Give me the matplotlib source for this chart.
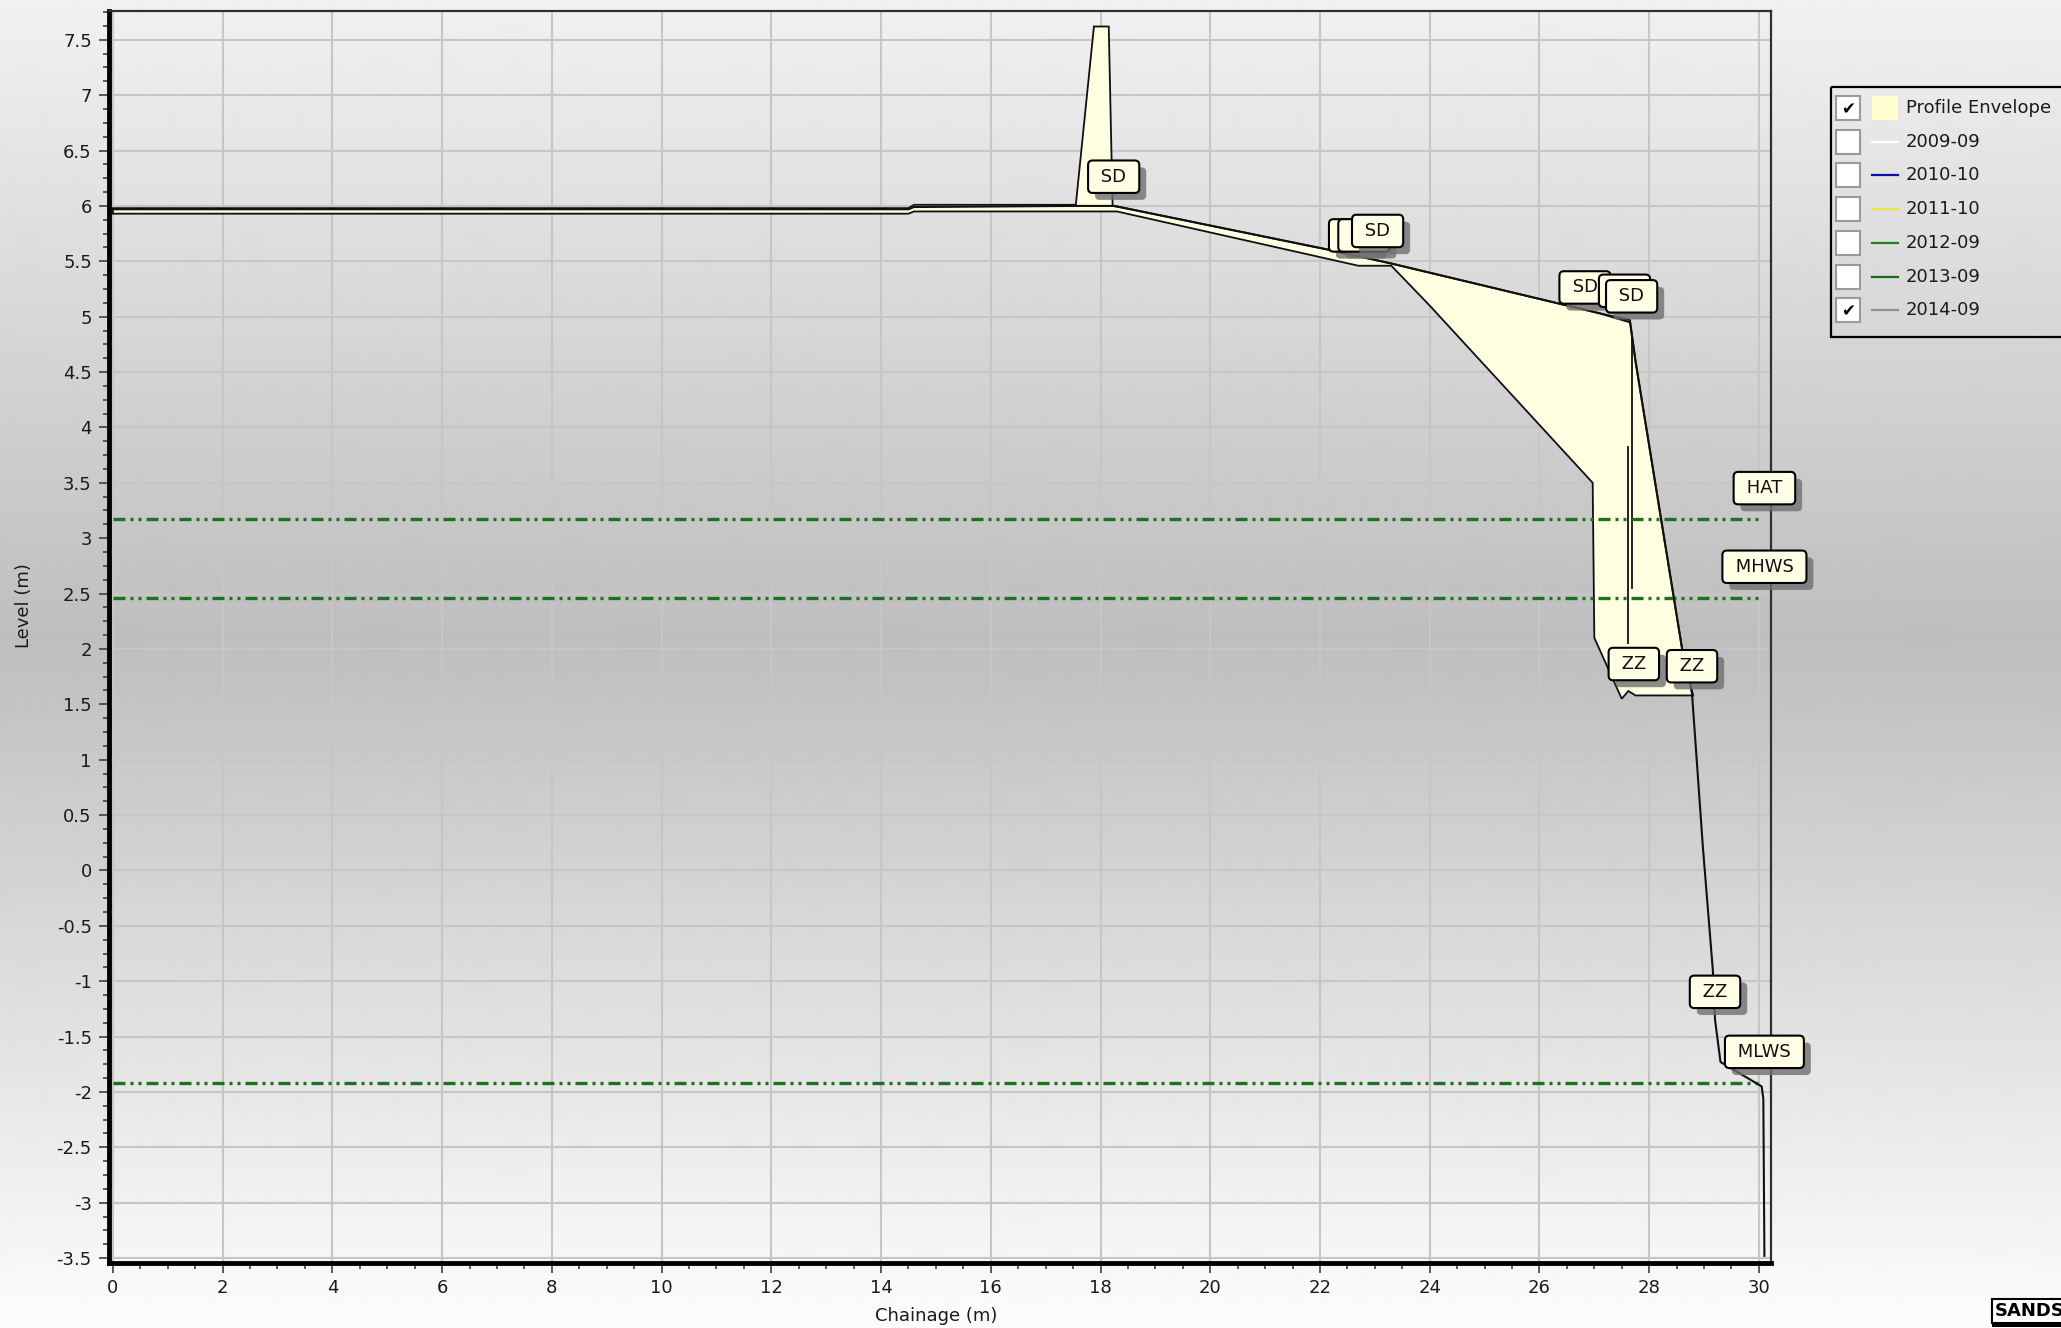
import matplotlib
matplotlib.use("Agg")
import matplotlib.pyplot as plt
import matplotlib.patheffects as pe
from matplotlib.patches import Rectangle, Polygon
from matplotlib.ticker import MultipleLocator, FuncFormatter
import numpy as np

plt.rcParams['font.family'] = ['DejaVu Sans']
plt.rcParams['axes.unicode_minus'] = False

# 2014-09 survey profile (chainage m, level m)
chainage_2014 = [0.0, 14.5, 14.6, 17.55, 18.25, 22.2, 23.3, 27.1, 27.65, 27.75,
                 28.6, 28.78, 28.98, 29.16, 29.2, 29.3, 30.05, 30.08, 30.1]
level_2014 = [5.97, 5.97, 5.99, 6.0, 6.0, 5.6, 5.48, 5.03, 4.95, 4.6,
              2.0, 1.6, 0.2, -0.9, -1.35, -1.73, -1.95, -2.06, -3.48]

# profile envelope outline (max side then back along min side)
env_chainage = [0.0, 14.5, 14.6, 17.55, 17.88, 18.15, 18.22, 18.35, 22.2, 23.3,
                27.1, 27.65, 27.75, 28.6, 28.8,
                27.75, 27.62, 27.5, 27.0, 26.97, 24.0, 23.3, 22.7, 18.3, 14.6, 14.5, 0.0]
env_level = [5.98, 5.98, 6.01, 6.01, 7.62, 7.62, 6.0, 5.99, 5.6, 5.48,
             5.03, 4.97, 4.6, 2.0, 1.58,
             1.58, 1.62, 1.55, 2.1, 3.5, 5.1, 5.46, 5.46, 5.95, 5.95, 5.93, 5.93]
# inner envelope edges from the other surveys
inner_chainage = [[27.62, 27.62], [27.68, 27.68]]
inner_level = [[3.82, 2.05], [4.8, 2.55]]

# tidal levels
tide_names = ['HAT', 'MHWS', 'MLWS']
tide_levels = [3.17, 2.46, -1.92]
tide_start, tide_end = 0.0, 30.05

# feature codes on the profile
feature_codes = ['SD', 'SD', 'SD', 'SD', 'SD', 'SD', 'SD', 'ZZ', 'ZZ', 'ZZ']
feature_x = [18.24, 22.63, 22.8, 23.05, 26.83, 27.55, 27.68, 27.72, 28.78, 29.2]
feature_y = [6.0, 5.47, 5.47, 5.51, 5.0, 4.97, 4.92, 1.6, 1.58, -1.36]

legend_names = ['Profile Envelope', '2009-09', '2010-10', '2011-10', '2012-09', '2013-09', '2014-09']
legend_colors = ['#ffffd0', '#ffffff', '#1010b0', '#e8e840', '#208020', '#1a6a1a', '#909090']
legend_checked = [True, False, False, False, False, False, True]

W, H = 2061, 1328
fig = plt.figure(figsize=(W / 100, H / 100), dpi=100)

# background gradient + legend in pixel coordinates
bg = fig.add_axes([0, 0, 1, 1])
bg.set_zorder(0)
grad = np.interp(np.linspace(0, 1, H), [0, 0.48, 1], [0.945, 0.745, 0.99])
bg.imshow(grad[:, None], cmap='gray', vmin=0, vmax=1, aspect='auto',
          extent=[0, W, H, 0], interpolation='bilinear')
bg.set_xlim(0, W)
bg.set_ylim(H, 0)
bg.axis('off')

ax = fig.add_axes([108.5 / W, 1 - 1262.5 / H, (1771 - 108.5) / W, (1262.5 - 11) / H])
ax.set_zorder(1)
ax.patch.set_alpha(0)

# envelope
env = Polygon(np.column_stack([env_chainage, env_level]), closed=True,
              facecolor='#fffee0', edgecolor='#101010', lw=1.3, zorder=2)
ax.add_patch(env)
for cx, lv in zip(inner_chainage, inner_level):
    ax.plot(cx, lv, color='#101010', lw=1.3, zorder=3)

# 2014-09 profile
ax.plot(chainage_2014, level_2014, color='#101010', lw=1.5, zorder=4)

# tidal levels
for name, lv in zip(tide_names, tide_levels):
    ax.plot([tide_start, tide_end], [lv, lv], color='#1f701f', lw=2.4,
            linestyle=(0, (3.6, 1.5, 0.9, 1.5, 0.9, 1.5)), zorder=3)

PAD = 0.4
box = dict(boxstyle='round,pad=%g,rounding_size=0.25' % PAD, fc='#ffffe6', ec='black', lw=1.5)
shadow = [pe.SimplePatchShadow(offset=(5, -5), shadow_rgbFace='#707070', alpha=0.8), pe.Normal()]

def tag(text, x, y, off_px, z):
    pad_px = PAD * 13 / 0.72
    t = ax.annotate(' ' + text + ' ', xy=(x, y), xytext=(0, (off_px + pad_px) * 0.72),
                    textcoords='offset points', ha='center', va='bottom',
                    fontsize=13, color='#101010', bbox=dict(box), zorder=z,
                    annotation_clip=False)
    t.get_bbox_patch().set_path_effects(shadow)
    return t

for i, (c, x, y) in enumerate(zip(feature_codes, feature_x, feature_y)):
    tag(c, x, y, 13, 10 + i)
for i, (name, lv) in enumerate(zip(tide_names, tide_levels)):
    tag(name, 30.1, lv, 15, 30 + i)

ax.set_xlim(-0.08, 30.22)
ax.set_ylim(-3.54, 7.76)
ax.xaxis.set_major_locator(MultipleLocator(2))
ax.xaxis.set_minor_locator(MultipleLocator(0.5))
ax.yaxis.set_major_locator(MultipleLocator(0.5))
ax.yaxis.set_minor_locator(MultipleLocator(0.125))
ax.yaxis.set_major_formatter(FuncFormatter(lambda v, p: '%g' % v))
ax.grid(True, which='major', color='#c6c6c6', lw=1.5, zorder=0)
ax.set_axisbelow(True)
ax.tick_params(which='major', direction='out', length=7, width=1.2, color='#404040',
               labelsize=13, labelcolor='#1a1a1a', pad=5)
ax.tick_params(which='minor', direction='out', length=4.5, width=1.2, color='#404040')
for s in ['left', 'bottom']:
    ax.spines[s].set_linewidth(3.5)
    ax.spines[s].set_color('black')
for s in ['top', 'right']:
    ax.spines[s].set_linewidth(1.6)
    ax.spines[s].set_color('#303030')
ax.set_xlabel('Chainage (m)', fontsize=13, color='#1a1a1a')
ax.set_ylabel('Level (m)', fontsize=13, color='#1a1a1a')
ax.xaxis.set_label_coords(0.498, -0.0355)
ax.yaxis.set_label_coords(-0.0454, 0.525)

# legend
bg.add_patch(Rectangle((1831, 87), 300, 250, fc='none', ec='black', lw=1.6, zorder=5))
for i, (name, col, chk) in enumerate(zip(legend_names, legend_colors, legend_checked)):
    yc = 108 + i * 33.7
    bg.add_patch(Rectangle((1836, yc - 12), 24, 24, fc='white', ec='#9a9a9a', lw=1.5, zorder=5))
    if chk:
        bg.text(1848, yc + 1, '\u2714', ha='center', va='center', fontsize=12,
                color='black', zorder=6)
    if i == 0:
        bg.add_patch(Rectangle((1872, yc - 12), 26, 24, fc=col, ec='none', zorder=5))
    else:
        bg.plot([1872, 1898], [yc, yc], color=col, lw=1.6, zorder=5)
    bg.text(1906, yc, name, ha='left', va='center', fontsize=13, color='#1a1a1a', zorder=6)

# SANDS logo (partly off the edge)
logo = bg.text(1995, 1311, 'SANDS', ha='left', va='center', fontsize=13, fontweight='bold',
               color='black', zorder=6, clip_on=False,
               bbox=dict(boxstyle='square,pad=0.15', fc='white', ec='black', lw=1.5))
logo.get_bbox_patch().set_path_effects([pe.SimplePatchShadow(offset=(0, -3), shadow_rgbFace='black', alpha=1), pe.Normal()])

fig.savefig('out.png', dpi=100)
